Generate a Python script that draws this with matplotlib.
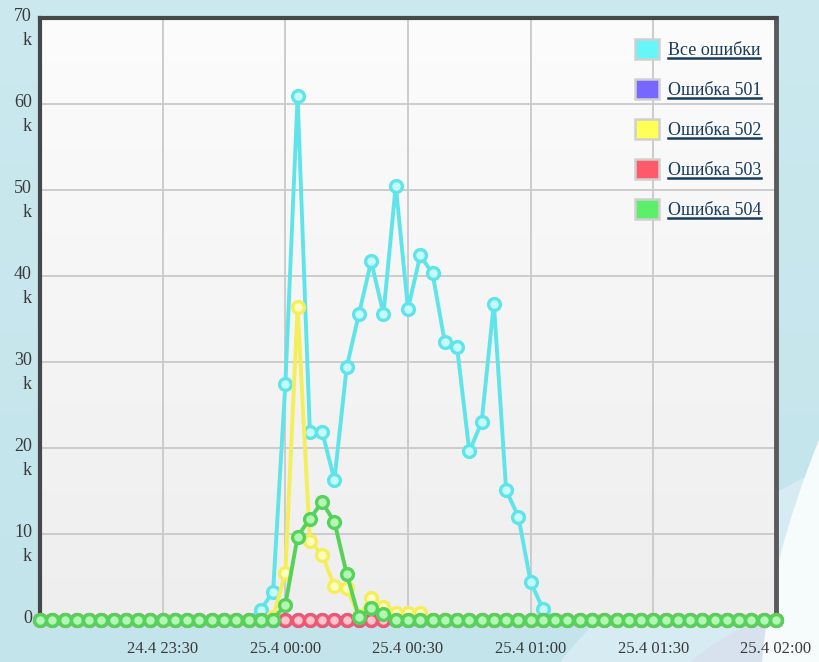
import numpy as np
import pandas as pd
import matplotlib
matplotlib.use("Agg")
import matplotlib.pyplot as plt
import matplotlib.transforms as mtransforms
from matplotlib.patches import Patch, PathPatch
from matplotlib.path import Path
from matplotlib.lines import Line2D
from matplotlib.ticker import FuncFormatter, MultipleLocator
import matplotlib.dates as mdates

# 3-minute samples from 24.04 23:00 to 25.04 02:00
times = pd.date_range("2014-04-24 23:00", "2014-04-25 02:00", freq="3min")

# error counts, thousands; samples before/after the burst are zero
all_errors_burst = [1.2, 3.3, 27.4, 60.9, 21.9, 21.9, 16.3, 29.4, 35.6, 41.7, 35.6,
                    50.5, 36.2, 42.4, 40.3, 32.3, 31.7, 19.6, 23.0, 36.8, 15.1, 12.0,
                    4.4, 1.3]
err502_burst = [0.3, 5.5, 36.4, 9.2, 7.6, 3.9, 3.7, 0.5, 2.6, 1.5, 0.8, 0.8, 0.8]
err504_burst = [1.8, 9.7, 11.8, 13.7, 11.4, 5.4, 0.3, 1.4, 0.7]

n = len(times)
all_errors = np.zeros(n)
all_errors[18:18 + len(all_errors_burst)] = all_errors_burst
err501 = np.zeros(n)
err502 = np.zeros(n)
err502[19:19 + len(err502_burst)] = err502_burst
err503 = np.zeros(n)
err504 = np.zeros(n)
err504[20:20 + len(err504_burst)] = err504_burst

labels = ["Все ошибки", "Ошибка 501", "Ошибка 502", "Ошибка 503", "Ошибка 504"]
series = [all_errors, err501, err502, err503, err504]
line_colors = ["#5fe4ea", "#7a6cff", "#f4ee5a", "#ec5a72", "#55d25a"]
marker_faces = ["#c4fafc", "#c8c2ff", "#fffcc0", "#ffc4cc", "#b4f6b4"]
swatch_colors = ["#66f6f8", "#7766ff", "#ffff55", "#ff5a6a", "#5cf06a"]

W, H = 819, 662
fig = plt.figure(figsize=(W / 100, H / 100), dpi=100)
fig.patch.set_facecolor("#c8e8ee")

# page background with a pale swoosh in the lower right corner
bg = fig.add_axes([0, 0, 1, 1], zorder=-5)
bg.set_xlim(0, W)
bg.set_ylim(H, 0)
bg.axis("off")
bg.imshow(np.linspace(0, 1, 256).reshape(-1, 1), extent=[0, W, H, 0], aspect="auto", zorder=0,
          cmap=matplotlib.colors.LinearSegmentedColormap.from_list("bgc", ["#cbe9ef", "#c3e4eb"]))
band = Path([(560, H), (640, 560), (819, 470), (819, H), (560, H)],
            [Path.MOVETO, Path.CURVE3, Path.CURVE3, Path.LINETO, Path.CLOSEPOLY])
bg.add_patch(PathPatch(band, facecolor="#d6ecf2", edgecolor="none", zorder=1))
lav = Path([(690, H), (740, 620), (819, 600), (819, H), (690, H)],
           [Path.MOVETO, Path.CURVE3, Path.CURVE3, Path.LINETO, Path.CLOSEPOLY])
bg.add_patch(PathPatch(lav, facecolor="#d8e2ee", edgecolor="none", zorder=2))
swoosh = Path([(819, 440), (770, 560), (762, H), (819, H), (819, 440)],
              [Path.MOVETO, Path.CURVE3, Path.CURVE3, Path.LINETO, Path.CLOSEPOLY])
bg.add_patch(PathPatch(swoosh, facecolor="#f6fbfc", edgecolor="none", zorder=3))

ax = fig.add_axes([40 / W, 1 - 622 / H, 736 / W, 604 / H])
ax.set_zorder(1)

# plot area gradient
ax.imshow(np.linspace(0, 1, 256).reshape(-1, 1), extent=[0, 1, 0, 1],
          transform=ax.transAxes, aspect="auto", zorder=0,
          cmap=matplotlib.colors.LinearSegmentedColormap.from_list("pa", ["#fcfcfc", "#eeeeee"]))

for vals, col, face, lab in zip(series, line_colors, marker_faces, labels):
    ax.plot(times, vals * 1000, color=col, lw=2.8, marker="o", ms=8.5,
            mfc=face, mec=col, mew=2.4, zorder=3, label=lab, clip_on=False)

ax.set_xlim(times[0], times[-1])
ax.set_ylim(-230, 70000)
ax.yaxis.set_major_locator(MultipleLocator(10000))
ax.xaxis.set_major_locator(mdates.MinuteLocator(byminute=[0, 30]))
ax.xaxis.set_major_formatter(FuncFormatter(
    lambda v, p: "" if p == 0 else (lambda d: f"{d.day}.{d.month} {d:%H:%M}")(mdates.num2date(v))))

ax.grid(True, color="#c9c9c9", lw=1.3, zorder=1)
ax.set_axisbelow(True)
ax.tick_params(length=0)
ax.tick_params(axis="x", pad=14, labelsize=12, labelcolor="#3a3a3a")
ax.set_yticklabels([])
for lbl in ax.get_xticklabels():
    lbl.set_fontfamily("Liberation Serif")

# y labels: number on the grid line, "k" underneath
ylab_tr = mtransforms.offset_copy(
    mtransforms.blended_transform_factory(ax.transAxes, ax.transData), fig, x=-8, y=10, units="dots")
for v in range(0, 70001, 10000):
    txt = "0" if v == 0 else f"{v // 1000}\nk"
    ax.text(0, v, txt, transform=ylab_tr, ha="right", va="top", fontsize=13,
            family="Liberation Serif", color="#3a3a3a", linespacing=1.55,
            multialignment="right", clip_on=False)

for side in ["left", "top"]:
    ax.spines[side].set_color("#474747")
    ax.spines[side].set_linewidth(3)
ax.spines["right"].set_color("#5a5a5a")
ax.spines["right"].set_linewidth(3.5)
ax.spines["bottom"].set_visible(False)

handles = [Patch(facecolor=c, edgecolor="#d0d0d0", lw=1.8) for c in swatch_colors]
leg = fig.legend(handles, labels, loc="upper left", bbox_to_anchor=(626 / W, 1 - 30 / H),
                 bbox_transform=fig.transFigure, frameon=False, borderpad=0,
                 handlelength=1.3, handleheight=1.3, handletextpad=0.5, labelspacing=1.12,
                 prop={"family": "Liberation Serif", "size": 13})
for t in leg.get_texts():
    t.set_color("#183c5c")

# underline the legend entries
fig.canvas.draw()
inv = fig.transFigure.inverted()
for t in leg.get_texts():
    bb = t.get_window_extent()
    (x0, y0), (x1, _) = inv.transform([(bb.x0, bb.y0 + 1), (bb.x1, bb.y0 + 1)])
    fig.add_artist(Line2D([x0, x1], [y0, y0], color="#183c5c", lw=1.8, transform=fig.transFigure))

fig.savefig("out.png", dpi=100, facecolor=fig.get_facecolor())
